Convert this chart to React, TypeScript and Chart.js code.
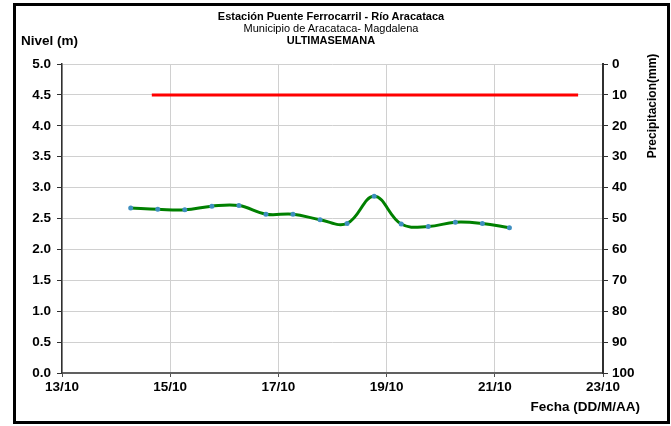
import React, { useEffect, useRef } from "react";
import { Chart, registerables } from "chart.js";

Chart.register(...registerables);

// Days of October (fractional) for each level reading
const levelDays = [14.27, 14.77, 15.27, 15.77, 16.27, 16.77, 17.27, 17.77, 18.27, 18.77, 19.27, 19.77, 20.27, 20.77, 21.27];
const levelValues = [2.67, 2.65, 2.64, 2.70, 2.71, 2.57, 2.57, 2.48, 2.42, 2.86, 2.41, 2.37, 2.44, 2.42, 2.35];
// Red reference line (nivel)
const alertDays = [14.66, 22.54];
const alertValues = [4.5, 4.5];

const xMin = 13;
const xMax = 23;
const month = "10";
const titleLines = ["Estación Puente Ferrocarril - Río Aracataca", "Municipio de Aracataca- Magdalena", "ULTIMASEMANA"];
const leftAxisTitle = "Nivel (m)";
const rightAxisTitle = "Precipitacion(mm)";
const xAxisTitle = "Fecha (DD/M/AA)";

const FONT = "'Liberation Sans', Arial, sans-serif";

export default function App() {
  const ref = useRef<HTMLCanvasElement | null>(null);

  useEffect(() => {
    if (!ref.current) return;
    const tickFont = { family: FONT, size: 13.5, weight: "bold" as const };
    const chart = new Chart(ref.current, {
      type: "line",
      data: {
        datasets: [
          {
            label: "alerta",
            data: alertDays.map((d, i) => ({ x: d, y: alertValues[i] })),
            borderColor: "#ff0000",
            borderWidth: 3,
            pointRadius: 0,
            yAxisID: "y",
          },
          {
            label: "nivel",
            data: levelDays.map((d, i) => ({ x: d, y: levelValues[i] })),
            borderColor: "#008000",
            borderWidth: 3,
            tension: 0.4,
            pointRadius: 2.5,
            pointBackgroundColor: "#3f8fc0",
            pointBorderColor: "#3f8fc0",
            pointBorderWidth: 0,
            yAxisID: "y",
          },
        ],
      },
      options: {
        animation: false,
        responsive: false,
        maintainAspectRatio: false,
        layout: { padding: { left: 0, right: 0, top: 64, bottom: 0 } },
        plugins: { legend: { display: false }, tooltip: { enabled: false }, title: { display: false } },
        scales: {
          x: {
            type: "linear",
            min: xMin,
            max: xMax,
            ticks: {
              stepSize: 2,
              font: tickFont,
              color: "#000",
              padding: 2,
              maxRotation: 0,
              callback: (v: any) => `${v}/${month}`,
            },
            grid: { color: "#d0d0d0", lineWidth: 1, tickLength: 4, tickColor: "#505050" },
            border: { color: "#606060", width: 2 },
            afterFit: (s: any) => { s.height = 53; },
          },
          y: {
            position: "left",
            min: 0,
            max: 5,
            ticks: {
              stepSize: 0.5,
              font: tickFont,
              color: "#000",
              padding: 6,
              callback: (v: any) => Number(v).toFixed(1),
            },
            grid: { color: "#d0d0d0", lineWidth: 1, tickLength: 5, tickColor: "#303030" },
            border: { color: "#303030", width: 1.5 },
            afterFit: (s: any) => { s.width = 62; },
          },
          y1: {
            position: "right",
            min: 0,
            max: 100,
            reverse: true,
            ticks: { stepSize: 10, font: tickFont, color: "#000", padding: 4 },
            grid: { drawOnChartArea: false, tickLength: 5, tickColor: "#303030" },
            border: { color: "#303030", width: 2 },
            afterFit: (s: any) => { s.width = 68; },
          },
        },
      },
    });
    return () => chart.destroy();
  }, []);

  const txt: React.CSSProperties = { position: "absolute", fontFamily: FONT, fontSize: 11, color: "#000", whiteSpace: "nowrap", lineHeight: "12px" };

  return (
    <div style={{ position: "absolute", left: 0, top: 0, width: 671, height: 426, background: "#fff" }}>
      <canvas ref={ref} width={671} height={426} style={{ position: "absolute", left: 0, top: 0, width: 671, height: 426 }} />
      <div style={{ position: "absolute", left: 13, top: 3, width: 657, height: 421, boxSizing: "border-box", border: "3px solid #000", pointerEvents: "none" }} />
      <div style={{ ...txt, left: 0, width: 662, textAlign: "center", top: 10, fontWeight: "bold" }}>{titleLines[0]}</div>
      <div style={{ ...txt, left: 0, width: 662, textAlign: "center", top: 22 }}>{titleLines[1]}</div>
      <div style={{ ...txt, left: 0, width: 662, textAlign: "center", top: 34, fontWeight: "bold" }}>{titleLines[2]}</div>
      <div style={{ ...txt, fontSize: 13.5, lineHeight: "16px", left: 21, top: 33, fontWeight: "bold" }}>{leftAxisTitle}</div>
      <div style={{ ...txt, fontSize: 12, lineHeight: "14px", left: 652, top: 106, fontWeight: "bold", transform: "translate(-50%, -50%) rotate(-90deg)" }}>{rightAxisTitle}</div>
      <div style={{ ...txt, fontSize: 13.5, lineHeight: "16px", right: 671 - 640, top: 399, fontWeight: "bold" }}>{xAxisTitle}</div>
    </div>
  );
}
